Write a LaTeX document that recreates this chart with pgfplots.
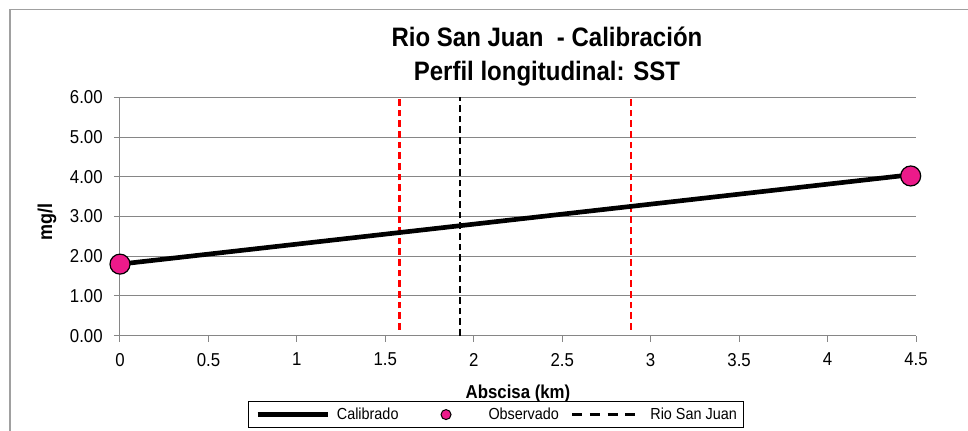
\documentclass[border=0pt]{standalone}
\usepackage{fontspec}
\setmainfont{Liberation Sans}[FakeStretch=0.9]
\usepackage{pgfplots}
\pgfplotsset{compat=1.18}
\definecolor{gridgray}{RGB}{134,134,134}
\definecolor{framegray}{RGB}{160,160,160}
\definecolor{obspink}{RGB}{236,26,138}
\definecolor{tramored}{RGB}{255,0,0}

\begin{document}
\begin{tikzpicture}[x=0.75pt,y=0.75pt]
\useasboundingbox (0,0) rectangle (968,430);
\fill[white] (0,0) rectangle (968,430);
\draw[framegray, line width=0.9pt] (10,-20) -- (10,420.7) -- (990,420.7);
\begin{axis}[
  at={(90pt,70.8pt)}, anchor=south west,
  scale only axis, width=597pt, height=178.7pt,
  xmin=0, xmax=4.5, ymin=0, ymax=6,
  clip=false,
  xtick={0,0.5,1,1.5,2,2.5,3,3.5,4,4.5},
  ytick={0,1,2,3,4,5,6},
  axis x line*=bottom, axis y line*=left,
  axis line style={gridgray, line width=0.75pt},
  tick align=outside, major tick length=4.5pt,
  tick style={gridgray, line width=0.75pt},
  ymajorgrids, grid style={gridgray, line width=0.75pt},
  tick label style={font=\fontsize{14}{16}\selectfont, text=black},
  x tick label style={yshift=-5pt, /pgf/number format/.cd, fixed, precision=1, assume math mode=true},
  y tick label style={xshift=-5pt, /pgf/number format/.cd, fixed, fixed zerofill, precision=2, assume math mode=true},
  title={Rio San Juan\ \ - Calibración\\Perfil longitudinal: SST},
  title style={at={(axis description cs:0.5364,1.262)}, anchor=north, align=center, inner sep=0pt,
    font=\fontsize{20}{25}\bfseries\selectfont},
  xlabel={Abscisa (km)},
  xlabel style={at={(axis description cs:0.5,-0.2056)}, anchor=north, inner sep=0pt,
    font=\fontsize{14}{16}\bfseries\selectfont},
  ylabel={mg/l},
  ylabel style={at={(axis description cs:-0.0917,0.477)}, anchor=center, inner sep=0pt,
    font=\fontsize{15}{17}\bfseries\selectfont},
  legend columns=3,
  legend style={at={(axis description cs:0.4724,-0.3315)}, anchor=center,
    draw=black, line width=0.75pt, inner xsep=5pt, inner ysep=4.5pt,
    font=\fontsize{12}{14}\selectfont,
    nodes={inner sep=0pt},
    /tikz/every odd column/.append style={column sep=5.25pt},
    /tikz/every even column/.append style={column sep=9pt}},
]
% tramos del rio (lineas verticales)
\addplot[color=tramored, line width=1.6pt, dash pattern=on 5pt off 3pt, forget plot] coordinates {(1.58,0.15) (1.58,6)};
\addplot[color=tramored, line width=1.6pt, dash pattern=on 5pt off 3pt, forget plot] coordinates {(2.89,0.15) (2.89,6)};
\addplot[color=black, line width=1.5pt, dash pattern=on 5pt off 3pt, forget plot] coordinates {(1.92,0) (1.92,6)};

\addplot[black, line width=3.5pt, no marks,
  legend image code/.code={\draw[black, line width=3.5pt] (0pt,0pt) -- (52.5pt,0pt);}]
  coordinates {(0,1.80) (4.47,4.05)};
\addlegendentry{Calibrado}

\addplot[only marks, mark=*, mark size=7.5pt, mark options={fill=obspink, draw=black, line width=0.9pt},
  legend image code/.code={\path (0pt,0pt) (52.5pt,0pt);
    \draw[fill=obspink, draw=black, line width=0.75pt] (26.25pt,0pt) circle (3.75pt);}]
  coordinates {(0,1.80) (4.47,4.02)};
\addlegendentry{Observado}

\addlegendimage{legend image code/.code={\draw[black, line width=1.8pt, dash pattern=on 7.5pt off 5.75pt] (0pt,0pt) -- (52.5pt,0pt);}}
\addlegendentry{Rio San Juan}
\end{axis}
\end{tikzpicture}
\end{document}
